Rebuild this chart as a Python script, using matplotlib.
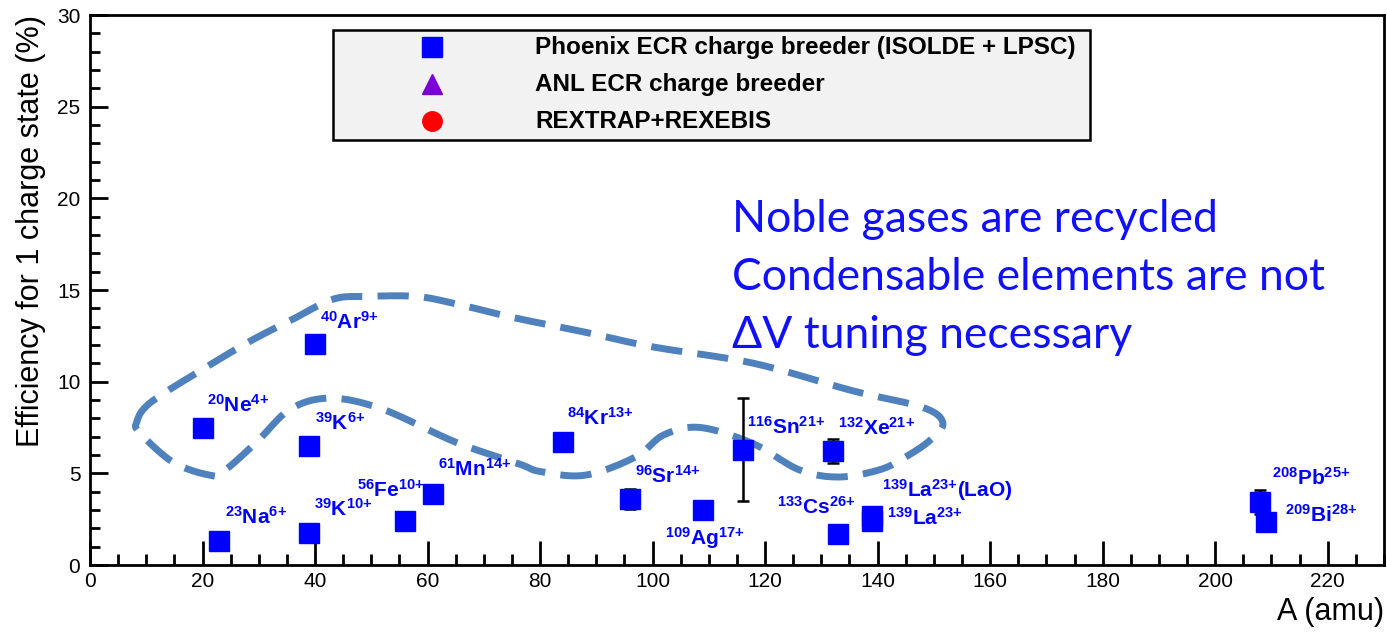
import numpy as np
import matplotlib
matplotlib.use('Agg')
from matplotlib import pyplot as plt
from matplotlib.patches import Rectangle

plt.rcParams['font.family'] = ['Liberation Sans', 'DejaVu Sans']
plt.rcParams['mathtext.fontset'] = 'custom'
plt.rcParams['mathtext.rm'] = 'Liberation Sans:bold'
plt.rcParams['mathtext.bf'] = 'Liberation Sans:bold'
plt.rcParams['mathtext.default'] = 'bf'

# Phoenix ECR charge breeder data (A, efficiency %, error)
mass = [20, 23, 40, 39, 39, 56, 61, 84, 96, 109, 116, 132, 133, 139, 139, 208, 209]
eff = [7.5, 1.3, 12.05, 6.5, 1.75, 2.4, 3.9, 6.7, 3.6, 3.0, 6.3, 6.2, 1.7, 2.7, 2.4, 3.45, 2.35]
err = [0, 0, 0, 0, 0, 0, 0, 0, 0.55, 0, 2.8, 0.65, 0, 0, 0, 0.65, 0]

labels = [r'$^{20}$Ne$^{4{+}}$', r'$^{23}$Na$^{6{+}}$', r'$^{40}$Ar$^{9{+}}$', r'$^{39}$K$^{6{+}}$',
          r'$^{39}$K$^{10{+}}$', r'$^{56}$Fe$^{10{+}}$', r'$^{61}$Mn$^{14{+}}$', r'$^{84}$Kr$^{13{+}}$',
          r'$^{96}$Sr$^{14{+}}$', r'$^{109}$Ag$^{17{+}}$', r'$^{116}$Sn$^{21{+}}$', r'$^{132}$Xe$^{21{+}}$',
          r'$^{133}$Cs$^{26{+}}$', r'$^{139}$La$^{23{+}}$(LaO)', r'$^{139}$La$^{23{+}}$',
          r'$^{208}$Pb$^{25{+}}$', r'$^{209}$Bi$^{28{+}}$']
# label anchor (left, baseline) offsets from each point
label_dx = [0.8, 1.0, 0.9, 1.0, 0.8, -8.5, 0.9, 0.8, 0.9, -6.8, 0.8, 1.0, -10.9, 1.8, 2.7, 2.1, 3.4]
label_dy = [0.85, 0.95, 0.85, 0.85, 0.95, 1.3, 0.95, 0.95, 0.9, -1.9, 0.85, 0.9, 1.1, 1.0, -0.2, 0.9, 0.0]

legend_labels = ['Phoenix ECR charge breeder (ISOLDE + LPSC)', 'ANL ECR charge breeder', 'REXTRAP+REXEBIS']
legend_markers = ['s', '^', 'o']
legend_colors = ['#0000ff', '#7a00d6', '#ff0000']

note_lines = ['Noble gases are recycled', 'Condensable elements are not', '\u0394V tuning necessary']

# hand-drawn dashed outline around the noble gas points
outline_a = [8.3, 10.7, 19.6, 28.4, 36, 43.2, 49.2, 58, 65, 75.2, 88, 100, 118, 135.6, 148, 151.6,
             149.3, 145, 140.4, 133, 126, 118, 108.5, 102, 97, 88, 80, 76.4, 65, 52, 42.7,
             35.6, 29.6, 23.7, 21.3, 14.8, 8.9]
outline_e = [7.8, 8.85, 10.6, 12.2, 13.4, 14.5, 14.65, 14.65, 14.25, 13.5, 12.7, 11.9, 11.0, 9.5, 8.6, 7.75,
             6.8, 5.9, 5.2, 4.8, 5.2, 6.6, 7.5, 7.1, 5.9, 4.9, 5.1, 5.5, 6.7, 8.5, 9.1,
             8.5, 6.7, 5.1, 4.9, 5.6, 7.2]


def smooth_closed(xs, ys, n=12):
    # closed Catmull-Rom spline through the outline points
    p = np.column_stack([xs, ys])
    m = len(p)
    out = []
    t = np.linspace(0, 1, n, endpoint=False)[:, None]
    for i in range(m):
        p0, p1, p2, p3 = p[i - 1], p[i], p[(i + 1) % m], p[(i + 2) % m]
        seg = 0.5 * ((2 * p1) + (-p0 + p2) * t + (2 * p0 - 5 * p1 + 4 * p2 - p3) * t ** 2
                     + (-p0 + 3 * p1 - 3 * p2 + p3) * t ** 3)
        out.append(seg)
    out.append(p[:1])
    out = np.vstack(out)
    return out[:, 0], out[:, 1]


fig = plt.figure(figsize=(13.87, 6.34), dpi=100)
ax = fig.add_axes([0.0649, 0.1088, 0.9329, 0.8675])

ox, oy = smooth_closed(outline_a, outline_e)
ax.plot(ox, oy, color='#4f81bd', lw=5, dashes=(4.5, 2.2), solid_capstyle='butt', dash_capstyle='butt', zorder=2)

for a, e, s in zip(mass, eff, err):
    if s > 0:
        ax.errorbar(a, e, yerr=s, fmt='none', ecolor='black', elinewidth=1.8, capsize=4, capthick=1.8, zorder=3)
ax.plot(mass, eff, 's', color='#0000ff', ms=14.5, mec='#0000ff', zorder=4)

for a, e, lab, dx, dy in zip(mass, eff, labels, label_dx, label_dy):
    ax.text(a + dx, e + dy, lab, color='#0000ff', fontsize=15, fontweight='bold',
            ha='left', va='baseline', zorder=5)

# note text
for i, line in enumerate(note_lines):
    ax.text(114.2, 18.15 - 3.15 * i, line, color='#1010ff', fontsize=32, family=['Lato', 'DejaVu Sans'],
            ha='left', va='baseline')

# legend box
ax.add_patch(Rectangle((0.188, 0.7727), 0.585, 0.20, transform=ax.transAxes, facecolor='#f2f2f2',
                       edgecolor='black', lw=1.8, zorder=6))
rows = [0.9418, 0.8745, 0.8073]
for lab, mk, col, yy in zip(legend_labels, legend_markers, legend_colors, rows):
    ax.plot([0.2645], [yy], mk, color=col, ms=14, transform=ax.transAxes, zorder=7, clip_on=False)
    ax.text(0.3439, yy, lab, transform=ax.transAxes, fontsize=17.5, fontweight='bold',
            ha='left', va='center', zorder=7)

ax.set_xlim(0, 230)
ax.set_ylim(0, 30)
ax.set_xticks(np.arange(0, 221, 20))
ax.set_xticks(np.arange(0, 231, 5), minor=True)
ax.set_yticks(np.arange(0, 31, 5))
ax.set_yticks(np.arange(0, 31, 1), minor=True)
ax.tick_params(which='both', direction='in', top=False, right=False, labelsize=15, width=2)
ax.tick_params(which='major', axis='y', length=13, pad=7)
ax.tick_params(which='minor', axis='y', length=7)
ax.tick_params(which='major', axis='x', length=17, pad=5)
ax.tick_params(which='minor', axis='x', length=8)
for sp in ax.spines.values():
    sp.set_linewidth(2)

ax.set_ylabel('Efficiency for 1 charge state (%)', fontsize=22, loc='top', labelpad=8)
ax.set_xlabel('A (amu)', fontsize=22, loc='right', labelpad=4)

plt.savefig('out.png', dpi=100)
